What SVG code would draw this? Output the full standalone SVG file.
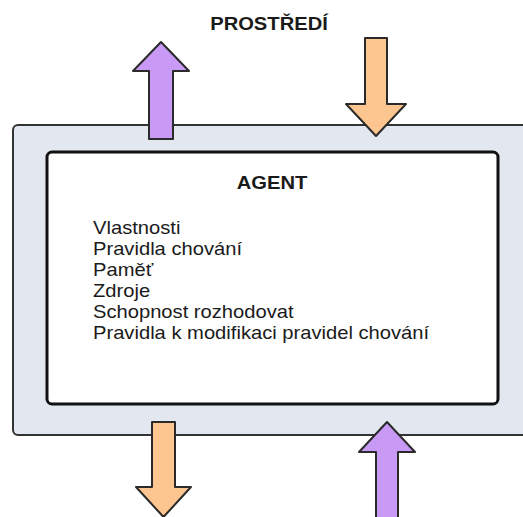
<svg xmlns="http://www.w3.org/2000/svg" width="523" height="517" viewBox="0 0 523 517">
<style>
.bg{fill:#ffffff}
.env{fill:#e3e7f0;stroke:#333333;stroke-width:2}
.agent{fill:#ffffff;stroke:#111111;stroke-width:3}
.t{font-family:"Liberation Sans",Arial,sans-serif;font-size:18px;fill:#1a1a1a}
.b{font-weight:bold}
.up{fill:#c99af5;stroke:#2a2a2a;stroke-width:2;stroke-linejoin:round}
.down{fill:#fdc690;stroke:#2a2a2a;stroke-width:2;stroke-linejoin:round}
</style>
<rect class="bg" x="0" y="0" width="523" height="517"/>
<g id="prostredi">
<rect class="env" x="13" y="125" width="520" height="310" rx="5"/>
<text class="t b" x="269" y="30" text-anchor="middle" transform="translate(269 0) scale(1.12 1) translate(-269 0)">PROSTŘEDÍ</text>
</g>
<g id="connectors">
<path class="up" d="M149,139 L149,71 L133,71 L161,42 L189,71 L173,71 L173,139 Z"/>
<path class="down" d="M365,38 L387,38 L387,104 L406,104 L376,136 L346,104 L365,104 Z"/>
<path class="down" d="M152,422 L175,422 L175,487 L191,487 L163.5,517 L136,487 L152,487 Z"/>
<path class="up" d="M376,525 L376,452 L359,452 L387,422 L415,452 L398,452 L398,525 Z"/>
</g>
<g id="agent">
<rect class="agent" x="47" y="152" width="451" height="252" rx="5"/>
<text class="t b" x="272" y="189" text-anchor="middle" transform="translate(272 0) scale(1.12 1) translate(-272 0)">AGENT</text>
<g transform="translate(93 0) scale(1.12 1)">
<text class="t" x="0" y="234">Vlastnosti</text>
<text class="t" x="0" y="255">Pravidla chování</text>
<text class="t" x="0" y="276">Paměť</text>
<text class="t" x="0" y="297">Zdroje</text>
<text class="t" x="0" y="318">Schopnost rozhodovat</text>
<text class="t" x="0" y="339">Pravidla k modifikaci pravidel chování</text>
</g>
</g>
</svg>
